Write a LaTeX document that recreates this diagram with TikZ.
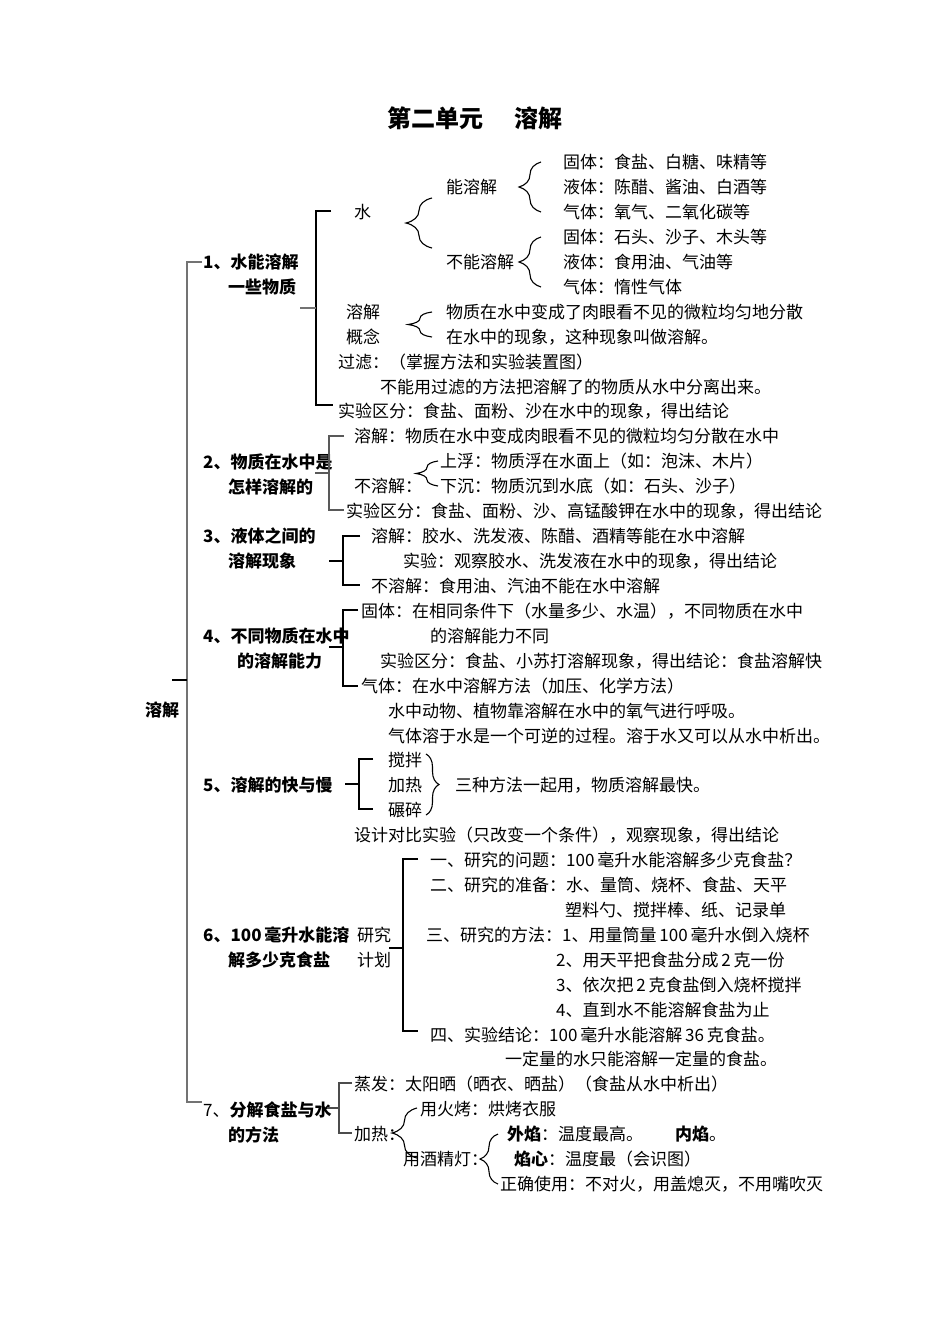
\documentclass[tikz,border=0pt]{standalone}
\usepackage{fontspec}
\newfontfamily\cjk{Noto Sans CJK SC}
\usetikzlibrary{decorations.pathreplacing}

\begin{document}
\begin{tikzpicture}[x=1pt, y=-1pt,
  txt/.style={anchor=west, inner sep=0pt, text height=14pt, text depth=2pt,
    font=\cjk\fontsize{17}{20}\selectfont},
  head/.style={txt, font=\cjk\bfseries\fontsize{17}{20}\selectfont},
  spine/.style={black!55, line width=2pt},
  bar/.style={black, line width=1.5pt},
  brc/.style={decorate, decoration={brace, amplitude=#1}, line width=1.1pt}]
  \useasboundingbox (0,0) rectangle (950,1344);

  % ── Title ──
  \node[inner sep=0pt, font=\cjk\bfseries\fontsize{24}{28}\selectfont] (ttl) at (475,118)
    {第二单元\hspace{32pt}溶解};

  % ── Root and spine ──
  \node[head] (root) at (145,710) {溶解};
  \coordinate (s1) at (202,262);
  \coordinate (s7) at (202,1102);
  \coordinate (rt) at (172,680);
  \draw[spine] (s1) -- ++(-15,0) |- (s7);
  \draw[spine, line width=1.2pt, black] (rt) -- ++(15,0);

  % ── 1. water dissolves some things ──
  \node[head] (h1a) at (203,262) {1、水能溶解};
  \node[head] (h1b) at (228,287) {一些物质};
  \node[txt] (w) at (354,212) {水};
  \node[txt] (ns) at (446,187) {能溶解};
  \node[txt] (bs) at (446,262) {不能溶解};
  \node[txt] (ns1) at (563,162) {固体：食盐、白糖、味精等};
  \node[txt] (ns2) at (563,187) {液体：陈醋、酱油、白酒等};
  \node[txt] (ns3) at (563,212) {气体：氧气、二氧化碳等};
  \node[txt] (bs1) at (563,237) {固体：石头、沙子、木头等};
  \node[txt] (bs2) at (563,262) {液体：食用油、气油等};
  \node[txt] (bs3) at (563,287) {气体：惰性气体};
  \node[txt] (gn1) at (346,312) {溶解};
  \node[txt] (gn2) at (346,337) {概念};
  \node[txt] (gd1) at (446,312) {物质在水中变成了肉眼看不见的微粒均匀地分散};
  \node[txt] (gd2) at (446,337) {在水中的现象，这种现象叫做溶解。};
  \node[txt] (gl1) at (338,362) {过滤：（掌握方法和实验装置图）};
  \node[txt] (gl2) at (380,387) {不能用过滤的方法把溶解了的物质从水中分离出来。};
  \node[txt] (sy1) at (338,411) {实验区分：食盐、面粉、沙在水中的现象，得出结论};
  \coordinate (b1t) at (331,211);
  \coordinate (b1b) at (333,405);
  \coordinate (b1m) at (300,308);
  \coordinate (wb1) at (432,198);
  \coordinate (wb2) at (432,248);
  \draw[bar, line width=2.4pt] (b1t) -- ++(-15,0) |- (b1b);
  \draw[spine, line width=1.5pt] (b1m) -- ++(16,0);
  \draw[brc=26] (wb2) -- (wb1);
  \draw[brc=22] ([xshift=-22pt]ns3.west) -- ([xshift=-22pt]ns1.west);
  \draw[brc=22] ([xshift=-22pt]bs3.west) -- ([xshift=-22pt]bs1.west);
  \draw[brc=24] ([xshift=-14pt]gd2.west) -- ([xshift=-14pt]gd1.west);

  % ── 2. how things dissolve ──
  \node[head] (h2a) at (203,462) {2、物质在水中是};
  \node[head] (h2b) at (228,487) {怎样溶解的};
  \node[txt] (rj2) at (354,436) {溶解：物质在水中变成肉眼看不见的微粒均匀分散在水中};
  \node[txt] (brj2) at (354,486) {不溶解：};
  \node[txt] (sf) at (440,461) {上浮：物质浮在水面上（如：泡沫、木片）};
  \node[txt] (xc) at (440,486) {下沉：物质沉到水底（如：石头、沙子）};
  \node[txt] (sy2) at (346,511) {实验区分：食盐、面粉、沙、高锰酸钾在水中的现象，得出结论};
  \coordinate (b2t) at (344,436);
  \coordinate (b2b) at (344,510);
  \coordinate (b2m) at (315,473);
  \draw[bar, black!65, line width=1.3pt] (b2t) -- ++(-15,0) |- (b2b);
  \draw[bar, black!65, line width=1.3pt] (b2m) -- ++(14,0);
  \draw[brc=22] ([xshift=-2pt]xc.west) -- ([xshift=-2pt]sf.west);

  % ── 3. liquids ──
  \node[head] (h3a) at (203,536) {3、液体之间的};
  \node[head] (h3b) at (228,561) {溶解现象};
  \node[txt] (rj3) at (371,536) {溶解：胶水、洗发液、陈醋、酒精等能在水中溶解};
  \node[txt] (sy3) at (403,561) {实验：观察胶水、洗发液在水中的现象，得出结论};
  \node[txt] (brj3) at (371,586) {不溶解：食用油、汽油不能在水中溶解};
  \coordinate (b3t) at (360,536);
  \coordinate (b3b) at (360,585);
  \coordinate (b3m) at (329,561);
  \draw[bar] (b3t) -- ++(-17,0) |- (b3b);
  \draw[bar] (b3m) -- ++(14,0);

  % ── 4. dissolving ability ──
  \node[head] (h4a) at (203,636) {4、不同物质在水中};
  \node[head] (h4b) at (237,661) {的溶解能力};
  \node[txt] (gt4) at (361,611) {固体：在相同条件下（水量多少、水温），不同物质在水中};
  \node[txt] (gt4b) at (430,636) {的溶解能力不同};
  \node[txt] (sy4) at (380,661) {实验区分：食盐、小苏打溶解现象，得出结论：食盐溶解快};
  \node[txt] (qt4) at (361,686) {气体：在水中溶解方法（加压、化学方法）};
  \node[txt] (qt4b) at (388,711) {水中动物、植物靠溶解在水中的氧气进行呼吸。};
  \node[txt] (qt4c) at (388,736) {气体溶于水是一个可逆的过程。溶于水又可以从水中析出。};
  \coordinate (b4t) at (358,610);
  \coordinate (b4b) at (358,686);
  \coordinate (b4m) at (329,647);
  \draw[bar] (b4t) -- ++(-15,0) |- (b4b);
  \draw[bar] (b4m) -- ++(14,0);

  % ── 5. fast and slow ──
  \node[head] (h5) at (203,785) {5、溶解的快与慢};
  \node[txt] (jb) at (388,760) {搅拌};
  \node[txt] (jr) at (388,785) {加热};
  \node[txt] (ns5) at (388,810) {碾碎};
  \node[txt] (sz) at (455,785) {三种方法一起用，物质溶解最快。};
  \node[txt] (sj) at (354,835) {设计对比实验（只改变一个条件），观察现象，得出结论};
  \coordinate (b5t) at (373,759);
  \coordinate (b5b) at (373,809);
  \coordinate (b5m) at (345,784);
  \coordinate (rb1) at (426,754);
  \coordinate (rb2) at (426,815);
  \draw[bar, line width=1.2pt] (b5t) -- ++(-14,0) |- (b5b);
  \draw[bar, line width=1.2pt] (b5m) -- ++(14,0);
  \draw[brc=13] (rb1) -- (rb2);

  % ── 6. how much salt ──
  \node[head] (h6a) at (203,935) {6、100\,毫升水能溶};
  \node[head] (h6b) at (228,960) {解多少克食盐};
  \node[txt] (yj1) at (357,935) {研究};
  \node[txt] (yj2) at (357,960) {计划};
  \node[txt] (q1) at (430,860) {一、研究的问题：100\,毫升水能溶解多少克食盐？};
  \node[txt] (q2) at (430,885) {二、研究的准备：水、量筒、烧杯、食盐、天平};
  \node[txt] (q2b) at (565,910) {塑料勺、搅拌棒、纸、记录单};
  \node[txt] (q3) at (426,935) {三、研究的方法：1、用量筒量\,100\,毫升水倒入烧杯};
  \node[txt] (q3b) at (556,960) {2、用天平把食盐分成\,2\,克一份};
  \node[txt] (q3c) at (556,985) {3、依次把\,2\,克食盐倒入烧杯搅拌};
  \node[txt] (q3d) at (556,1010) {4、直到水不能溶解食盐为止};
  \node[txt] (q4) at (430,1035) {四、实验结论：100\,毫升水能溶解\,36\,克食盐。};
  \node[txt] (q4b) at (505,1059) {一定量的水只能溶解一定量的食盐。};
  \coordinate (b6t) at (418,859);
  \coordinate (b6b) at (418,1031);
  \coordinate (b6m) at (389,948);
  \draw[bar, line width=2pt] (b6t) -- ++(-15,0) |- (b6b);
  \draw[bar, line width=1.5pt] (b6m) -- ++(14,0);

  % ── 7. separating salt and water ──
  \node[txt] (h7a) at (203,1110) {7、\textbf{分解食盐与水}};
  \node[head] (h7b) at (228,1135) {的方法};
  \node[txt] (zf) at (354,1084) {蒸发：太阳晒（晒衣、晒盐）（食盐从水中析出）};
  \node[txt] (jr7) at (354,1134) {加热：};
  \node[txt] (hk) at (420,1109) {用火烤：烘烤衣服};
  \node[txt] (jjd) at (403,1159) {用酒精灯：};
  \node[txt] (wy) at (507,1134) {\textbf{外焰}：温度最高。};
  \node[txt] (ny) at (675,1134) {\textbf{内焰}。};
  \node[txt] (yx) at (514,1159) {\textbf{焰心}：温度最（会识图）};
  \node[txt] (zq) at (500,1184) {正确使用：不对火，用盖熄灭，不用嘴吹灭};
  \coordinate (b7t) at (352,1083);
  \coordinate (b7b) at (352,1133);
  \coordinate (b7m) at (327,1108);
  \coordinate (hb1) at (417,1108);
  \coordinate (hb2) at (417,1158);
  \draw[bar, black!70, line width=1.3pt] (b7t) -- ++(-13,0) |- (b7b);
  \draw[bar, black!70, line width=1.3pt] (b7m) -- ++(12,0);
  \draw[brc=25] (hb2) -- (hb1);
  \draw[brc=18] ([xshift=-2pt]zq.west) -- ([xshift=-2pt]zq.west |- wy.west);
\end{tikzpicture}
\end{document}
